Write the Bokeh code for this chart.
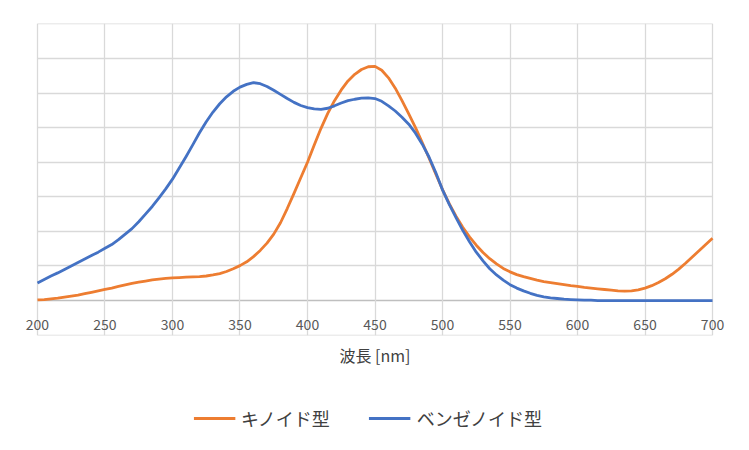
from bokeh.plotting import figure
from bokeh.layouts import column
from bokeh.models import FixedTicker, Grid, Legend, LegendItem
from bokeh.core.properties import value
from bokeh.embed import file_html
from bokeh.resources import INLINE

# wavelength [nm], 5 nm steps
wavelength = list(range(200, 701, 5))

# キノイド型 (orange)
quinoid = [0.02, 0.03, 0.05, 0.07, 0.10, 0.13, 0.16, 0.20, 0.24, 0.28,
           0.32, 0.36, 0.41, 0.455, 0.495, 0.53, 0.565, 0.595, 0.62, 0.64,
           0.655, 0.665, 0.675, 0.685, 0.695, 0.71, 0.74, 0.78, 0.84, 0.92,
           1.01, 1.12, 1.27, 1.45, 1.66, 1.92, 2.25, 2.66, 3.10, 3.55,
           4.00, 4.50, 4.98, 5.41, 5.78, 6.09, 6.35, 6.54, 6.68, 6.76,
           6.77, 6.66, 6.44, 6.14, 5.78, 5.40, 5.00, 4.57, 4.12, 3.66,
           3.21, 2.80, 2.44, 2.12, 1.84, 1.60, 1.39, 1.21, 1.06, 0.93,
           0.83, 0.75, 0.69, 0.64, 0.59, 0.55, 0.52, 0.49, 0.46, 0.43,
           0.41, 0.38, 0.36, 0.34, 0.32, 0.30, 0.28, 0.27, 0.28, 0.31,
           0.36, 0.43, 0.52, 0.63, 0.76, 0.91, 1.08, 1.26, 1.44, 1.62,
           1.80]

# ベンゼノイド型 (blue)
benzenoid = [0.51, 0.61, 0.71, 0.80, 0.90, 1.00, 1.10, 1.20, 1.30, 1.40,
             1.51, 1.62, 1.76, 1.92, 2.08, 2.28, 2.50, 2.72, 2.97, 3.23,
             3.51, 3.83, 4.16, 4.50, 4.85, 5.17, 5.45, 5.69, 5.89, 6.05,
             6.17, 6.25, 6.30, 6.27, 6.19, 6.08, 5.96, 5.84, 5.73, 5.64,
             5.58, 5.54, 5.53, 5.56, 5.63, 5.71, 5.78, 5.82, 5.85, 5.86,
             5.84, 5.76, 5.63, 5.48, 5.30, 5.10, 4.84, 4.52, 4.15, 3.70,
             3.20, 2.78, 2.40, 2.03, 1.70, 1.40, 1.15, 0.92, 0.74, 0.59,
             0.46, 0.36, 0.28, 0.21, 0.15, 0.11, 0.08, 0.06, 0.04, 0.03,
             0.02, 0.01, 0.01, 0.0, 0.0, 0.0, 0.0, 0.0, 0.0, 0.0,
             0.0, 0.0, 0.0, 0.0, 0.0, 0.0, 0.0, 0.0, 0.0, 0.0,
             0.0]

series_names = ["キノイド型", "ベンゼノイド型"]
series_colors = ["#ED7D31", "#4472C4"]

x_ticks = [200, 250, 300, 350, 400, 450, 500, 550, 600, 650, 700]
x_labels = [str(t) for t in x_ticks]
y_grid = [-1, 1, 2, 3, 4, 5, 6, 7, 8]

FONT = "Noto Sans CJK JP"
GRID = "#d9d9d9"

# frame is a little wider than 200..700 so the end labels are not clipped
p = figure(width=749, height=386, x_range=(188.9, 711.1),
           y_range=(-1.01, 8.01),
           output_backend="svg", toolbar_location=None, y_axis_location=None,
           min_border_left=22, min_border_right=22, min_border_top=23,
           min_border_bottom=51)
p.outline_line_color = None

p.xgrid.ticker = FixedTicker(ticks=x_ticks)
p.xgrid.cross_bounds = (-1, 8)
p.ygrid.ticker = FixedTicker(ticks=y_grid)
p.ygrid.cross_bounds = (200, 700)
p.grid.grid_line_color = GRID
p.grid.grid_line_width = 1.3

# horizontal axis line at zero
zero_line = Grid(dimension=1, ticker=FixedTicker(ticks=[0]),
                 cross_bounds=(200, 700), grid_line_color="#bfbfbf",
                 grid_line_width=1.3)
p.renderers.append(zero_line)

p.text(x=x_ticks, y=[-0.70] * len(x_ticks), text=x_labels,
       text_font=value(FONT), text_font_size="14px", text_color="#595959",
       text_align="center", text_baseline="middle")

ax = p.xaxis[0]
ax.ticker = FixedTicker(ticks=[])
ax.axis_line_color = None
ax.major_tick_line_color = None
ax.minor_tick_line_color = None
ax.axis_label = "波長 [nm]"
ax.axis_label_text_font = FONT
ax.axis_label_text_font_size = "16px"
ax.axis_label_text_font_style = "normal"
ax.axis_label_text_color = "#404040"
ax.axis_label_standoff = 7

p.line(wavelength, quinoid, line_color=series_colors[0], line_width=2.8,
       line_join="round")
p.line(wavelength, benzenoid, line_color=series_colors[1], line_width=2.8,
       line_join="round")

# legend strip under the chart (series drawn off-view, only the keys show)
leg = figure(width=735, height=64, x_range=(0, 1), y_range=(0, 1),
             output_backend="svg", toolbar_location=None,
             x_axis_location=None, y_axis_location=None, min_border=0)
leg.outline_line_color = None
leg.grid.grid_line_color = None
items = []
for name, color, vals in zip(series_names, series_colors, [quinoid, benzenoid]):
    r = leg.line(wavelength, vals, line_color=color, line_width=2.8)
    items.append(LegendItem(label=name, renderers=[r]))

legend = Legend(items=items, orientation="horizontal", location="center")
legend.label_text_font = FONT
legend.label_text_font_size = "18px"
legend.label_text_color = "#404040"
legend.glyph_width = 42
legend.label_standoff = 6
legend.spacing = 39
legend.border_line_color = None
legend.background_fill_alpha = 0
leg.add_layout(legend)

layout = column(p, leg, spacing=0)
open("out.html", "w").write(file_html(layout, INLINE))
